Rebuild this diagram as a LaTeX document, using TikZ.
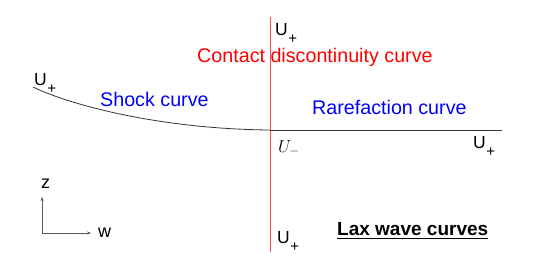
\documentclass[tikz,border=0pt]{standalone}
\usepackage{fontspec}
\setmainfont{Liberation Sans}
\usetikzlibrary{arrows.meta}
\definecolor{cdred}{rgb}{0.95,0.3,0.3}
\definecolor{txtred}{rgb}{1,0,0}
\definecolor{txtblue}{rgb}{0,0,1}
\newcommand{\Uplus}{{\fontsize{17.5}{19}\selectfont U\kern0.5pt\raisebox{-8.5pt}{\fontsize{15}{16}\selectfont +}}}
\tikzset{
  lbl/.style={inner sep=0pt, anchor=base west},
  big/.style={font=\fontsize{19.7}{22}\selectfont},
  axis/.style={draw=black!65, line width=0.7pt, -{Stealth[length=4pt,width=3pt]}},
}
\begin{document}
\begin{tikzpicture}[x=1pt,y=-1pt]
\useasboundingbox (0,0) rectangle (535,269);
% curves
\coordinate (ctop) at (270,17);
\coordinate (cbot) at (270,252);
\coordinate (um) at (270,130);
\coordinate (rend) at (502,130);
\coordinate (send) at (33,87);
\draw[cdred, line width=0.9pt] (ctop) -- (cbot);
\draw[black!80, line width=0.9pt] (um) -- (rend);
\draw[black!80, line width=0.8pt] (send) .. controls (70,105) and (160,129) .. (um);
% labels
\node[lbl, big, text=txtred] (cd) at (197,62) {Contact discontinuity curve};
\node[lbl, big, text=txtblue] (sc) at (100,106) {Shock curve};
\node[lbl, big, text=txtblue] (rc) at (312,114) {Rarefaction curve};
\node[lbl] (utop) at (275,35) {\Uplus};
\node[lbl] (uleft) at (34,85) {\Uplus};
\node[lbl] (uright) at (473,148) {\Uplus};
\node[lbl] (ubot) at (277,243) {\Uplus};
\node[lbl, font=\fontsize{18}{20}\selectfont] (umin) at (278,152) {$U_-$};
\node[lbl, font=\fontsize{19}{22}\selectfont\bfseries] (lax) at (337,235) {Lax wave curves};
\draw[line width=1.3pt] ([yshift=-3.5pt]lax.base west) -- ([yshift=-3.5pt]lax.base east);
% axes
\coordinate (ax0) at (42,233);
\coordinate (axz) at (42,197);
\coordinate (axw) at (91,233);
\draw[axis] (ax0) -- (axz);
\draw[axis] (ax0) -- (axw);
\node[lbl, font=\fontsize{18}{20}\selectfont] (zl) at (41,188) {z};
\node[lbl, font=\fontsize{18}{20}\selectfont] (wl) at (98,237) {w};
\end{tikzpicture}
\end{document}
